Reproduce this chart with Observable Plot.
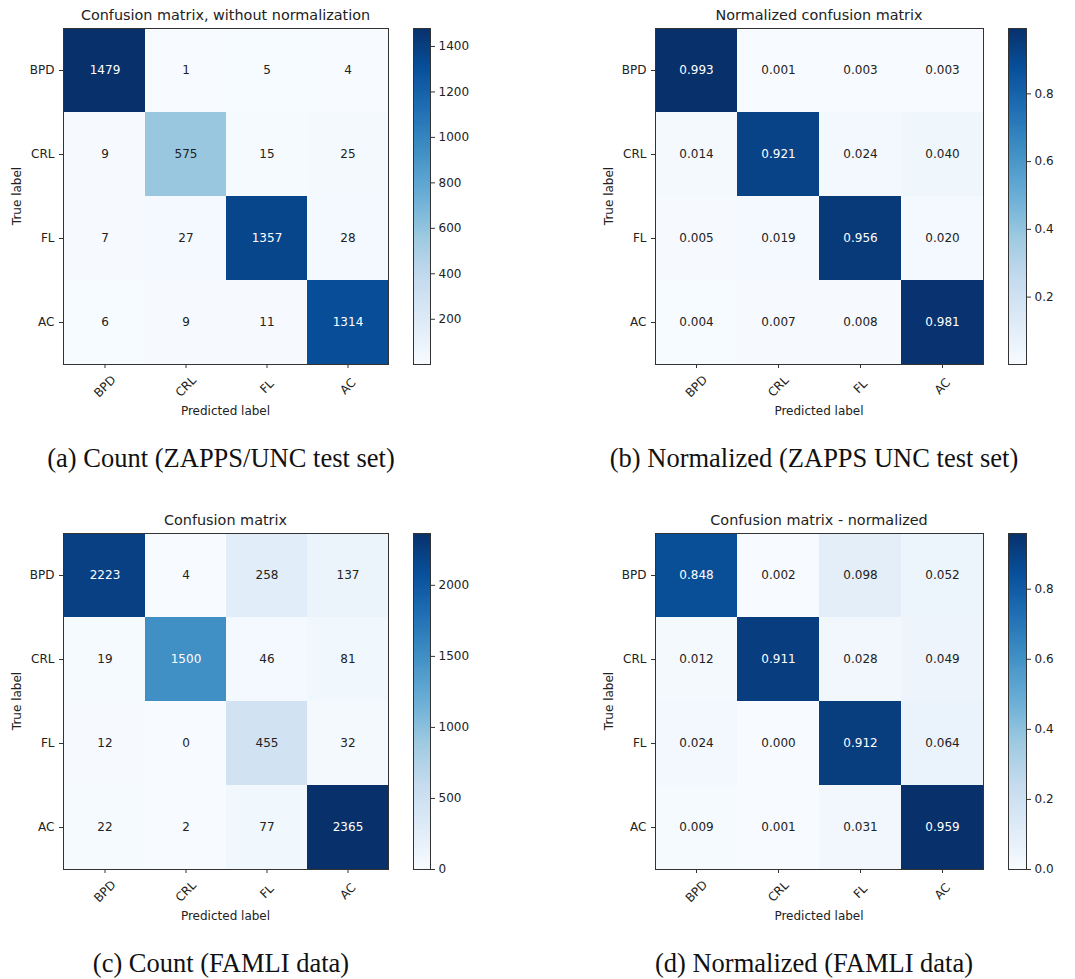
<!DOCTYPE html>
<html><head><meta charset="utf-8">
<script src="https://cdn.jsdelivr.net/npm/d3@7"></script>
<script src="https://cdn.jsdelivr.net/npm/@observablehq/plot@0.6"></script>
<style>
body{margin:0;background:#fff;width:1075px;height:979px;position:relative;overflow:hidden;font-family:"DejaVu Sans",sans-serif;}
.abs{position:absolute;}
.title{font-size:14.4px;color:#222;transform:translate(-50%,-50%);white-space:nowrap}
.axl{font-size:12px;color:#222;transform:translate(-50%,-50%);white-space:nowrap}
.axv{font-size:12px;color:#222;transform:translate(-50%,-50%) rotate(-90deg);white-space:nowrap}
.cap{font-family:"Liberation Serif",serif;font-size:26.5px;color:#111;transform:translate(-50%,-50%);white-space:nowrap}
</style></head><body>
<script>
const labels = ["BPD", "CRL", "FL", "AC"];

const countsZapps = [
  [1479, 1, 5, 4],
  [9, 575, 15, 25],
  [7, 27, 1357, 28],
  [6, 9, 11, 1314]
];
const normZapps = [
  [0.993, 0.001, 0.003, 0.003],
  [0.014, 0.921, 0.024, 0.040],
  [0.005, 0.019, 0.956, 0.020],
  [0.004, 0.007, 0.008, 0.981]
];
const countsFamli = [
  [2223, 4, 258, 137],
  [19, 1500, 46, 81],
  [12, 0, 455, 32],
  [22, 2, 77, 2365]
];
const normFamli = [
  [0.848, 0.002, 0.098, 0.052],
  [0.012, 0.911, 0.028, 0.049],
  [0.024, 0.000, 0.912, 0.064],
  [0.009, 0.001, 0.031, 0.959]
];

const ticksA = [200, 400, 600, 800, 1000, 1200, 1400];
const ticksB = [0.2, 0.4, 0.6, 0.8];
const ticksC = [0, 500, 1000, 1500, 2000];
const ticksD = [0.0, 0.2, 0.4, 0.6, 0.8];

const titles = ["Confusion matrix, without normalization", "Normalized confusion matrix", "Confusion matrix", "Confusion matrix - normalized"];
const captions = ["(a) Count (ZAPPS/UNC test set)", "(b) Normalized (ZAPPS UNC test set)", "(c) Count (FAMLI data)", "(d) Normalized (FAMLI data)"];

const blues = d3.piecewise(d3.interpolateRgb, d3.schemeBlues[9]);
const INK = "#222";
const svgStyle = "max-width:none;background:transparent;overflow:visible;font-family:'DejaVu Sans',sans-serif;font-size:12px;color:#222;";

function addDiv(cls, text, x, y) {
  const d = document.createElement("div");
  d.className = "abs " + cls;
  d.textContent = text;
  d.style.left = x + "px";
  d.style.top = y + "px";
  document.body.appendChild(d);
}

function panel(cfg) {
  const {matrix, fmt, cbTicks, cbFmt, title, caption, fx0, fx1, fy0, fy1, cbx0, cbx1} = cfg;
  const data = [];
  matrix.forEach((row, i) => row.forEach((v, j) => data.push({t: labels[i], p: labels[j], v})));
  const vmin = d3.min(data, d => d.v), vmax = d3.max(data, d => d.v);
  const thresh = vmax / 2;
  const color = {type: "linear", domain: [vmin, vmax], interpolate: () => blues};
  const mL = 63, mT = 28, mR = 10, mB = 80;
  const fw = fx1 - fx0, fh = fy1 - fy0;

  const heat = Plot.plot({
    width: mL + fw + mR, height: mT + fh + mB,
    marginLeft: mL, marginTop: mT, marginRight: mR, marginBottom: mB,
    style: svgStyle,
    x: {domain: labels, padding: 0, axis: null},
    y: {domain: labels, padding: 0, axis: null},
    color: {domain: [vmin, vmax], interpolate: blues},
    marks: [
      Plot.cell(data, {x: "p", y: "t", fill: "v", inset: 0}),
      Plot.text(data, {filter: d => d.v <= thresh, x: "p", y: "t", text: d => fmt(d.v), fill: INK, fontSize: 12}),
      Plot.text(data, {filter: d => d.v > thresh, x: "p", y: "t", text: d => fmt(d.v), fill: "white", fontSize: 12}),
      Plot.frame({stroke: "#333", strokeWidth: 1}),
      Plot.axisY({tickSize: 4, tickPadding: 5, label: null, fontSize: 12, stroke: "#333", fill: INK}),
      Plot.axisX({tickSize: 4, tickFormat: () => "", label: null, stroke: "#333"}),
      Plot.text(labels, {x: d => d, frameAnchor: "bottom", dy: 22, rotate: -45, textAnchor: "middle", lineAnchor: "middle", fontSize: 12, fill: INK})
    ]
  });
  const hd = document.createElement("div");
  hd.className = "abs";
  hd.style.left = (fx0 - mL) + "px";
  hd.style.top = (fy0 - mT) + "px";
  hd.appendChild(heat);
  document.body.appendChild(hd);

  const n = 240;
  const step = (vmax - vmin) / n;
  const slices = d3.range(n).map(i => ({y1: vmin + i * step, y2: vmin + (i + 1) * step, v: vmin + (i + 0.5) * step}));
  const cbw = cbx1 - cbx0;
  const cb = Plot.plot({
    width: cbw + 50, height: mT + fh + mB,
    marginLeft: 0, marginRight: 50, marginTop: mT, marginBottom: mB,
    style: svgStyle,
    y: {domain: [vmin, vmax], axis: null},
    color: {domain: [vmin, vmax], interpolate: blues},
    marks: [
      Plot.rect(slices, {y1: "y1", y2: "y2", fill: "v", shapeRendering: "crispEdges"}),
      Plot.frame({stroke: "#333", strokeWidth: 1}),
      Plot.axisY({anchor: "right", ticks: cbTicks, tickFormat: cbFmt, tickSize: 4, tickPadding: 4, label: null, fontSize: 12, stroke: "#333", fill: INK})
    ]
  });
  const cd = document.createElement("div");
  cd.className = "abs";
  cd.style.left = cbx0 + "px";
  cd.style.top = (fy0 - mT) + "px";
  cd.appendChild(cb);
  document.body.appendChild(cd);

  const cx = (fx0 + fx1) / 2;
  addDiv("title", title, cx, fy0 - 13);
  addDiv("axl", "Predicted label", cx, fy1 + 47);
  addDiv("axv", "True label", fx0 - 46, (fy0 + fy1) / 2);
  addDiv("cap", caption, cfg.capX, fy1 + 94);
}

const fInt = d => String(d);
const f3 = d => d.toFixed(3);
const f1 = d => d.toFixed(1);

panel({matrix: countsZapps, fmt: fInt, cbTicks: ticksA, cbFmt: fInt, title: titles[0], caption: captions[0], fx0: 63, fx1: 388, fy0: 28, fy1: 364, cbx0: 413, cbx1: 430, capX: 221});
panel({matrix: normZapps, fmt: f3, cbTicks: ticksB, cbFmt: f1, title: titles[1], caption: captions[1], fx0: 655, fx1: 983, fy0: 28, fy1: 364, cbx0: 1008, cbx1: 1026, capX: 814});
panel({matrix: countsFamli, fmt: fInt, cbTicks: ticksC, cbFmt: fInt, title: titles[2], caption: captions[2], fx0: 63, fx1: 388, fy0: 533, fy1: 869, cbx0: 413, cbx1: 430, capX: 221});
panel({matrix: normFamli, fmt: f3, cbTicks: ticksD, cbFmt: f1, title: titles[3], caption: captions[3], fx0: 655, fx1: 983, fy0: 533, fy1: 869, cbx0: 1008, cbx1: 1026, capX: 814});
</script>
</body></html>
